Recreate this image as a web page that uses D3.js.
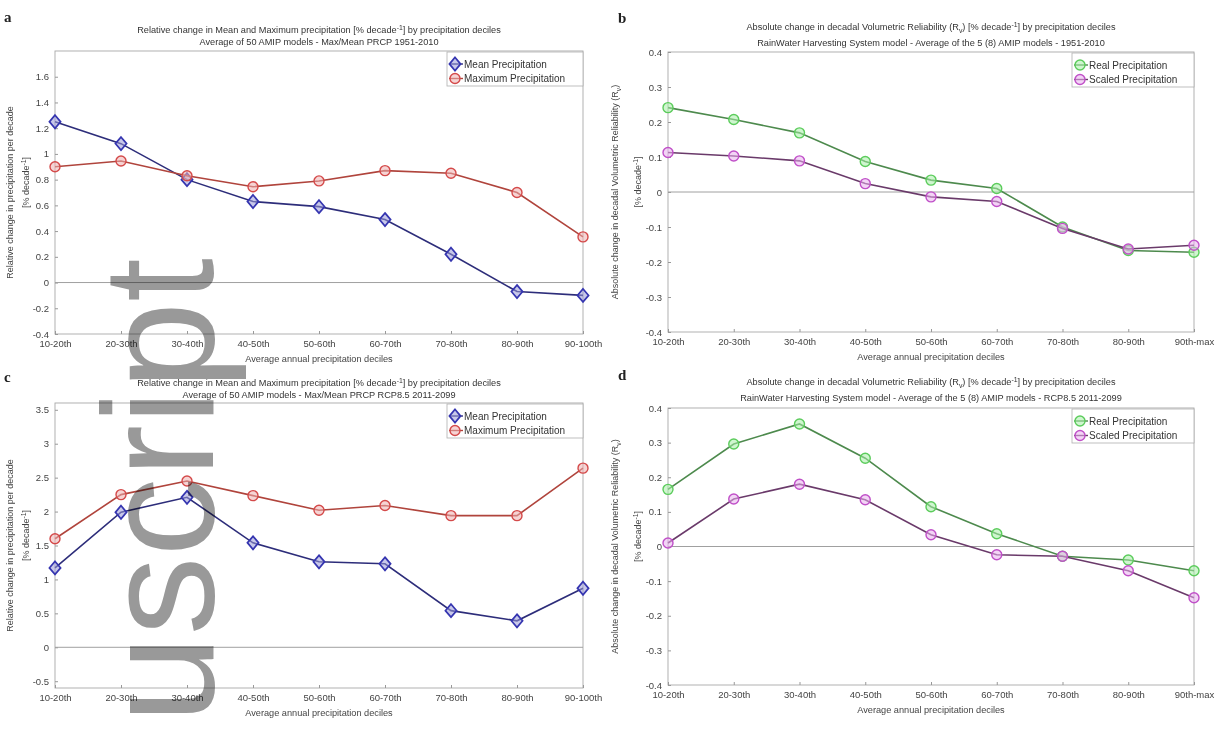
<!DOCTYPE html>
<html><head><meta charset="utf-8">
<script src="https://cdn.jsdelivr.net/npm/d3@7"></script>
<style>html,body{margin:0;padding:0;background:#fff;}svg{display:block;}</style>
</head><body>
<svg id="chart" width="1225" height="729"></svg>
<script>
// ---------- DATA ----------
const catsPrcp = ["10-20th","20-30th","30-40th","40-50th","50-60th","60-70th","70-80th","80-90th","90-100th"];
const catsRel  = ["10-20th","20-30th","30-40th","40-50th","50-60th","60-70th","70-80th","80-90th","90th-max"];

const meanPast   = [1.25, 1.08, 0.80, 0.63, 0.59, 0.49, 0.22, -0.07, -0.10];
const maxPast    = [0.90, 0.945, 0.83, 0.745, 0.79, 0.87, 0.85, 0.70, 0.355];
const realPast   = [0.241, 0.207, 0.169, 0.087, 0.034, 0.010, -0.100, -0.167, -0.172];
const scaledPast = [0.113, 0.103, 0.089, 0.024, -0.014, -0.027, -0.104, -0.163, -0.152];

const meanFut    = [1.17, 1.99, 2.21, 1.54, 1.26, 1.23, 0.54, 0.39, 0.87];
const maxFut     = [1.60, 2.25, 2.45, 2.235, 2.02, 2.09, 1.94, 1.94, 2.64];
const realFut    = [0.165, 0.296, 0.354, 0.255, 0.115, 0.037, -0.028, -0.039, -0.070];
const scaledFut  = [0.010, 0.137, 0.180, 0.135, 0.034, -0.024, -0.028, -0.070, -0.148];

const ticksA = [-0.4,-0.2,0,0.2,0.4,0.6,0.8,1,1.2,1.4,1.6];
const ticksC = [-0.5,0,0.5,1,1.5,2,2.5,3,3.5];
const ticksBD = [-0.4,-0.3,-0.2,-0.1,0,0.1,0.2,0.3,0.4];

const seriesNames = {mean:"Mean Precipitation", max:"Maximum Precipitation", real:"Real Precipitation", scaled:"Scaled Precipitation"};

// ---------- STYLES ----------
const styles = {
  mean:   {line:"#2d2d7a", stroke:"#3535b0", fill:"#9a9ad8", shape:"diamond"},
  max:    {line:"#b0443c", stroke:"#d44a4a", fill:"#eeb0b0", shape:"circle"},
  real:   {line:"#4d8a4d", stroke:"#5ccc5c", fill:"#a8eea8", shape:"circle"},
  scaled: {line:"#6a3a6a", stroke:"#c050c8", fill:"#eab0ee", shape:"circle"}
};

const svg = d3.select("#chart");
svg.append("rect").attr("width",1225).attr("height",729).attr("fill","#fff");
const FONT = "'Liberation Sans', Arial, sans-serif";

function marker(g, shape, st, x, y) {
  if (shape === "diamond") {
    g.append("path")
      .attr("d", d3.symbol().type(d3.symbolDiamond2).size(60)())
      .attr("transform", `translate(${x},${y}) scale(1.15,1.35)`)
      .attr("fill", st.fill).attr("fill-opacity",0.55)
      .attr("stroke", st.stroke).attr("stroke-width",1.4);
  } else {
    g.append("circle").attr("cx",x).attr("cy",y).attr("r",5)
      .attr("fill", st.fill).attr("fill-opacity",0.55)
      .attr("stroke", st.stroke).attr("stroke-width",1.4);
  }
}

function decadeText(sel, before) {
  sel.append("tspan").text(before + "[% decade");
  sel.append("tspan").attr("dy",-3.5).attr("font-size","0.75em").text("-1");
  sel.append("tspan").attr("dy",3.5).text("]");
}

function drawPanel(p) {
  const g = svg.append("g");
  const x = d3.scalePoint().domain(p.cats).range([p.x0, p.x1]).padding(0);
  const y = d3.scaleLinear().domain(p.domain).range([p.yBot, p.yTop]);

  // box
  g.append("rect").attr("x",p.x0).attr("y",p.yTop).attr("width",p.x1-p.x0).attr("height",p.yBot-p.yTop)
    .attr("fill","none").attr("stroke","#a8a8a8").attr("stroke-width",0.9);

  // y axis ticks / labels
  const yAx = d3.axisLeft(y).tickValues(p.ticks).tickSize(-3).tickPadding(6)
    .tickFormat(d => String(+d.toFixed(2)));
  const ya = g.append("g").attr("transform",`translate(${p.x0},0)`).call(yAx);
  ya.select(".domain").remove();
  ya.selectAll("line").attr("stroke","#999");
  ya.selectAll("text").attr("font-family",FONT).attr("font-size",9.5).attr("fill","#444");

  // x axis ticks / labels
  const xAx = d3.axisBottom(x).tickSize(-3).tickPadding(6);
  const xa = g.append("g").attr("transform",`translate(0,${p.yBot})`).call(xAx);
  xa.select(".domain").remove();
  xa.selectAll("line").attr("stroke","#999");
  xa.selectAll("text").attr("font-family",FONT).attr("font-size",9.5).attr("fill","#444");

  // zero line
  g.append("line").attr("x1",p.x0).attr("x2",p.x1).attr("y1",y(0)).attr("y2",y(0))
    .attr("stroke","#a0a0a0").attr("stroke-width",1);

  // titles
  const cx = (p.x0 + p.x1)/2;
  const t1 = g.append("text").attr("x",cx).attr("y",p.t1y).attr("text-anchor","middle")
    .attr("font-family",FONT).attr("font-size",9.2).attr("fill","#333");
  p.title1(t1);
  g.append("text").attr("x",cx).attr("y",p.t2y).attr("text-anchor","middle")
    .attr("font-family",FONT).attr("font-size",9.2).attr("fill","#333").text(p.title2);

  // x label
  g.append("text").attr("x",cx).attr("y",p.yBot+28).attr("text-anchor","middle")
    .attr("font-family",FONT).attr("font-size",9.2).attr("fill","#444").text("Average annual precipitation deciles");

  // y label
  const ymid = (p.yTop+p.yBot)/2;
  const yl1 = g.append("text").attr("transform",`translate(${p.yl1x},${ymid}) rotate(-90)`).attr("text-anchor","middle")
    .attr("font-family",FONT).attr("font-size",9).attr("fill","#444");
  p.ylab1(yl1);
  const yl2 = g.append("text").attr("transform",`translate(${p.yl2x},${ymid-10}) rotate(-90)`).attr("text-anchor","middle")
    .attr("font-family",FONT).attr("font-size",9).attr("fill","#444");
  decadeText(yl2, "");

  // series
  p.series.forEach(s => {
    const st = styles[s.key];
    const line = d3.line().x((d,i) => x(p.cats[i])).y(d => y(d));
    g.append("path").attr("d", line(s.values)).attr("fill","none")
      .attr("stroke", st.line).attr("stroke-width",1.6);
    s.values.forEach((v,i) => marker(g, st.shape, st, x(p.cats[i]), y(v)));
  });

  // legend
  const lg = g.append("g");
  lg.append("rect").attr("x",p.legX).attr("y",p.yTop+1).attr("width",p.x1-p.legX).attr("height",34)
    .attr("fill","#fff").attr("stroke","#b0b0b0").attr("stroke-width",0.8);
  p.series.forEach((s,i) => {
    const st = styles[s.key];
    const ly = p.yTop + 13 + i*14.5;
    lg.append("line").attr("x1",p.legX+2).attr("x2",p.legX+16).attr("y1",ly).attr("y2",ly)
      .attr("stroke",st.line).attr("stroke-width",1.4);
    marker(lg, st.shape, st, p.legX+8, ly);
    lg.append("text").attr("x",p.legX+17).attr("y",ly+3.5).attr("font-family",FONT)
      .attr("font-size",10).attr("fill","#333").text(seriesNames[s.key]);
  });

  // panel letter
  svg.append("text").attr("x",p.letX).attr("y",p.letY).attr("font-family","'Liberation Serif', 'DejaVu Serif', serif")
    .attr("font-weight","bold").attr("font-size",15).attr("fill","#222").text(p.letter);
}

const titleRel = sel => { decadeText(sel, "Relative change in Mean and Maximum precipitation "); sel.append("tspan").text(" by precipitation deciles"); };
const titleAbs = sel => {
  sel.append("tspan").text("Absolute change in decadal Volumetric Reliability (R");
  sel.append("tspan").attr("dy",2.5).attr("font-size","0.75em").text("v");
  sel.append("tspan").attr("dy",-2.5).text(") ");
  decadeText(sel, "");
  sel.append("tspan").text(" by precipitation deciles");
};
const ylabRel = sel => sel.text("Relative change in precipitation per decade");
const ylabAbs = sel => {
  sel.append("tspan").text("Absolute change in decadal Volumetric Reliability (R");
  sel.append("tspan").attr("dy",2.5).attr("font-size","0.75em").text("v");
  sel.append("tspan").attr("dy",-2.5).text(")");
};

drawPanel({letter:"a", letX:4, letY:22, cats:catsPrcp, x0:55, x1:583, yTop:51, yBot:334,
  domain:[-0.4,1.8], ticks:ticksA, t1y:33, t2y:45, title1:titleRel,
  title2:"Average of 50 AMIP models - Max/Mean PRCP 1951-2010", yl1x:13, yl2x:29, ylab1:ylabRel,
  legX:447, series:[{key:"mean",values:meanPast},{key:"max",values:maxPast}]});

drawPanel({letter:"b", letX:618, letY:23, cats:catsRel, x0:668, x1:1194, yTop:52, yBot:332,
  domain:[-0.4,0.4], ticks:ticksBD, t1y:30, t2y:46, title1:titleAbs,
  title2:"RainWater Harvesting System model - Average of the 5 (8) AMIP models - 1951-2010", yl1x:618, yl2x:641, ylab1:ylabAbs,
  legX:1072, series:[{key:"real",values:realPast},{key:"scaled",values:scaledPast}]});

drawPanel({letter:"c", letX:4, letY:382, cats:catsPrcp, x0:55, x1:583, yTop:403, yBot:688,
  domain:[-0.6,3.6], ticks:ticksC, t1y:386, t2y:398, title1:titleRel,
  title2:"Average of 50 AMIP models - Max/Mean PRCP RCP8.5 2011-2099", yl1x:13, yl2x:29, ylab1:ylabRel,
  legX:447, series:[{key:"mean",values:meanFut},{key:"max",values:maxFut}]});

drawPanel({letter:"d", letX:618, letY:380, cats:catsRel, x0:668, x1:1194, yTop:408, yBot:685,
  domain:[-0.4,0.4], ticks:ticksBD, t1y:385, t2y:401, title1:titleAbs,
  title2:"RainWater Harvesting System model - Average of the 5 (8) AMIP models - RCP8.5 2011-2099", yl1x:618, yl2x:641, ylab1:ylabAbs,
  legX:1072, series:[{key:"real",values:realFut},{key:"scaled",values:scaledFut}]});

// watermark
svg.append("text").attr("transform","translate(213,258) rotate(-90)").attr("text-anchor","end")
  .attr("font-family",FONT).attr("font-size",158).attr("fill","#999")
  .style("mix-blend-mode","multiply").text("uscript");
</script>
</body></html>
